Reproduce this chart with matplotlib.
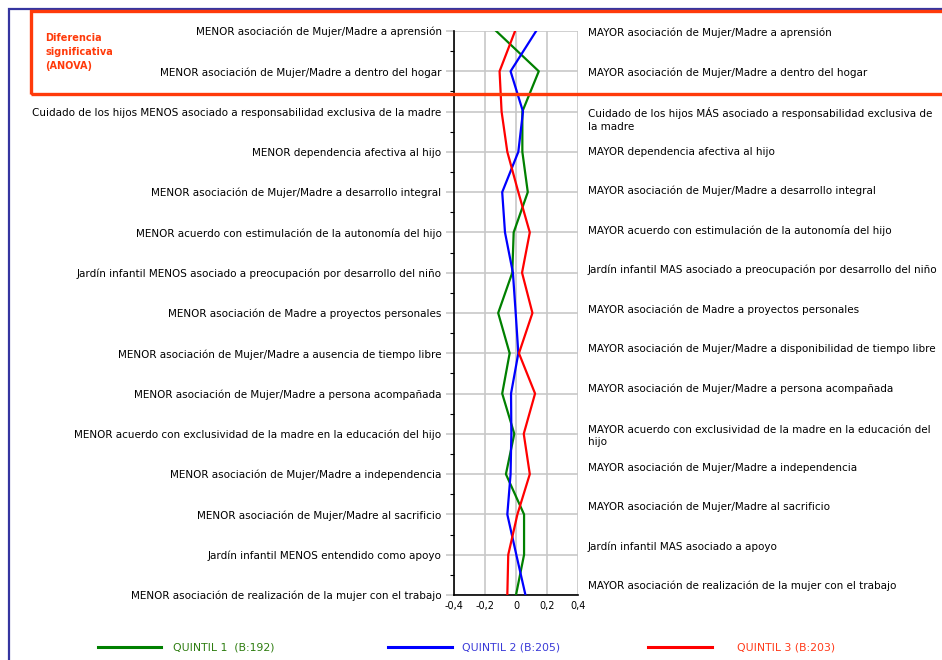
import numpy as np
import matplotlib.pyplot as plt
from matplotlib.patches import Rectangle

# Row labels (left = low end, right = high end)
left_labels = [
    "MENOR asociación de Mujer/Madre a aprensión",
    "MENOR asociación de Mujer/Madre a dentro del hogar",
    "Cuidado de los hijos MENOS asociado a responsabilidad exclusiva de la madre",
    "MENOR dependencia afectiva al hijo",
    "MENOR asociación de Mujer/Madre a desarrollo integral",
    "MENOR acuerdo con estimulación de la autonomía del hijo",
    "Jardín infantil MENOS asociado a preocupación por desarrollo del niño",
    "MENOR asociación de Madre a proyectos personales",
    "MENOR asociación de Mujer/Madre a ausencia de tiempo libre",
    "MENOR asociación de Mujer/Madre a persona acompañada",
    "MENOR acuerdo con exclusividad de la madre en la educación del hijo",
    "MENOR asociación de Mujer/Madre a independencia",
    "MENOR asociación de Mujer/Madre al sacrificio",
    "Jardín infantil MENOS entendido como apoyo",
    "MENOR asociación de realización de la mujer con el trabajo",
]
right_labels = [
    "MAYOR asociación de Mujer/Madre a aprensión",
    "MAYOR asociación de Mujer/Madre a dentro del hogar",
    "Cuidado de los hijos MÁS asociado a responsabilidad exclusiva de\nla madre",
    "MAYOR dependencia afectiva al hijo",
    "MAYOR asociación de Mujer/Madre a desarrollo integral",
    "MAYOR acuerdo con estimulación de la autonomía del hijo",
    "Jardín infantil MAS asociado a preocupación por desarrollo del niño",
    "MAYOR asociación de Madre a proyectos personales",
    "MAYOR asociación de Mujer/Madre a disponibilidad de tiempo libre",
    "MAYOR asociación de Mujer/Madre a persona acompañada",
    "MAYOR acuerdo con exclusividad de la madre en la educación del\nhijo",
    "MAYOR asociación de Mujer/Madre a independencia",
    "MAYOR asociación de Mujer/Madre al sacrificio",
    "Jardín infantil MAS asociado a apoyo",
    "MAYOR asociación de realización de la mujer con el trabajo",
]

# Mean scores per quintile
quintil1 = [-0.128, 0.147, 0.041, 0.041, 0.076, -0.015, -0.024, -0.115,
            -0.041, -0.089, -0.011, -0.065, 0.052, 0.052, 0.000]
quintil2 = [0.130, -0.035, 0.045, 0.015, -0.089, -0.071, -0.020, -0.002,
            0.015, -0.032, -0.030, -0.035, -0.056, 0.002, 0.061]
quintil3 = [-0.006, -0.106, -0.093, -0.056, 0.015, 0.089, 0.039, 0.106,
            0.019, 0.123, 0.050, 0.089, 0.009, -0.050, -0.056]

series = [
    (quintil1, "#008000", "#2e7d10", "QUINTIL 1  (B:192)"),
    (quintil2, "#0000ff", "#3a3ad8", "QUINTIL 2 (B:205)"),
    (quintil3, "#ff0000", "#ff3a1a", "QUINTIL 3 (B:203)"),
]

W, H = 942, 660
fig = plt.figure(figsize=(W / 100, H / 100), dpi=100)
fs = 7.5
font = "DejaVu Sans"

ax = fig.add_axes([454 / W, 1 - 595 / H, (578 - 454) / W, (595 - 31) / H])
rows = np.arange(len(left_labels))

for vals, col, _, _ in series:
    ax.plot(vals, rows, color=col, lw=1.6, clip_on=True, zorder=3)

ax.set_xlim(-0.4, 0.4)
ax.set_ylim(rows[-1], rows[0])
ax.set_xticks([-0.4, -0.2, 0, 0.2, 0.4])
ax.set_xticklabels(["-0,4", "-0,2", "0", "0,2", "0,4"], fontsize=7, family=font)
ax.set_yticks(rows)
ax.set_yticklabels(left_labels, fontsize=fs, family=font)
ax.set_yticks(rows[:-1] + 0.5, minor=True)
ax.tick_params(axis="y", which="major", length=6, color="#c8c8c8", width=1.2, pad=3)
ax.tick_params(axis="y", which="minor", length=3, color="black", width=0.8)
ax.tick_params(axis="x", length=0, pad=4)
ax.grid(True, color="#c8c8c8", lw=1.2, zorder=0)
for s in ["top", "right"]:
    ax.spines[s].set_visible(False)
ax.spines["left"].set_linewidth(1.2)
ax.spines["bottom"].set_linewidth(1.2)

# right-hand labels sit in their own evenly spaced column
slots = np.linspace(0.05, 13.78, len(right_labels))
for s, lab in zip(slots, right_labels):
    off = 0.19 if "\n" in lab else 0.0
    ax.text(1.0 + (588 - 578) / (578 - 454), s + off, lab, transform=ax.get_yaxis_transform(),
            ha="left", va="center", fontsize=fs, family=font, linespacing=1.3)

# outer blue frame
fig.add_artist(Rectangle((9 / W, -0.1), 1.2, 1 - 9 / H + 0.1, transform=fig.transFigure,
                         fill=False, ec="#3535a0", lw=1.6))
# red box for significant differences
fig.add_artist(Rectangle((31 / W, 1 - 94 / H), 1.2, (94 - 11) / H, transform=fig.transFigure,
                         fill=False, ec="#ff3a0a", lw=2.4, zorder=5))
fig.text(45 / W, 1 - 52 / H, "Diferencia\nsignificativa\n(ANOVA)", color="#ff3a0a",
         fontsize=7, fontweight="bold", family=font, va="center", ha="left", linespacing=1.45)

# legend
leg_x = [(98, 161, 173), (388, 452, 462), (648, 712, 737)]
for (x0, x1, xt), (_, col, tcol, lab) in zip(leg_x, series):
    fig.add_artist(plt.Line2D([x0 / W, x1 / W], [1 - 647 / H] * 2, color=col, lw=2.2))
    fig.text(xt / W, 1 - 647 / H, lab, color=tcol, fontsize=7.8, family=font,
             va="center", ha="left")

fig.savefig("out.png", dpi=100)
